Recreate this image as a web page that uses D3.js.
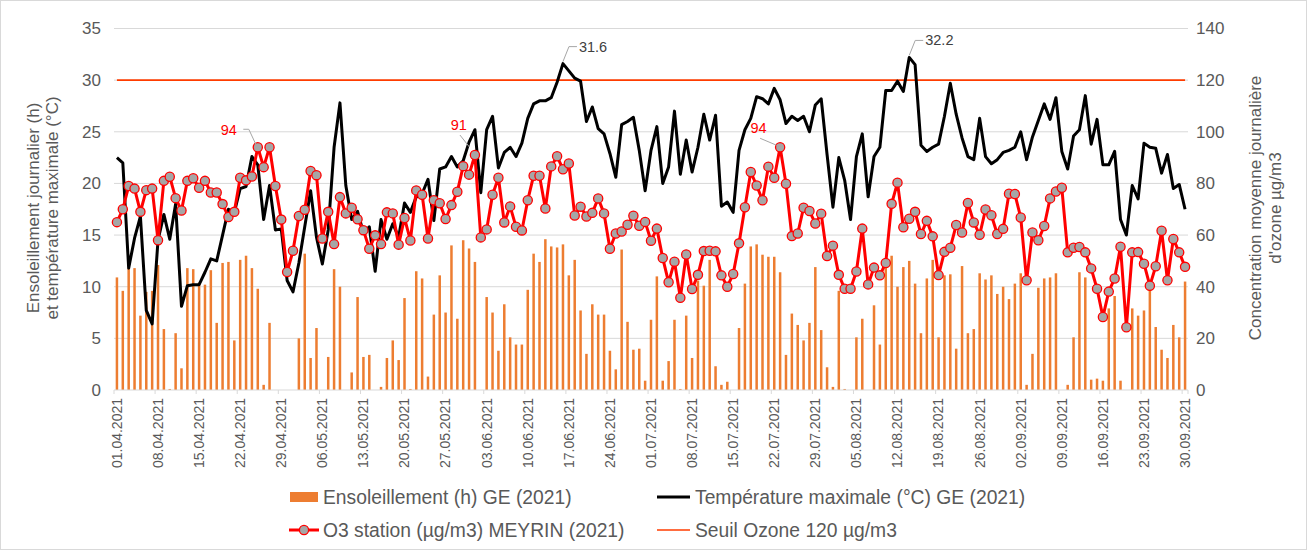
<!DOCTYPE html>
<html>
<head>
<meta charset="utf-8">
<script src="https://cdn.jsdelivr.net/npm/d3@7"></script>
<style>
  html, body { margin: 0; padding: 0; background: #fff; }
  svg { display: block; font-family: "Liberation Sans", Arial, sans-serif; }
</style>
</head>
<body>
<svg id="chart" width="1307" height="550"></svg>
<script>
// Daily series, 01.04.2021 – 30.09.2021 (183 days)
const startDate = new Date(2021, 3, 1);
const endDate = new Date(2021, 8, 30);

// Ensoleillement journalier (h), Genève
const sunshine = [
  10.9, 9.6, 11.8, 11.8, 7.2, 9.5, 9.6, 12.1, 5.9, 0.1, 5.5, 2.1, 11.8, 11.7, 10.4, 10.2, 11.6, 6.5, 12.3, 12.4,
  4.8, 12.6, 13.0, 11.8, 9.8, 0.5, 6.5, 0, 0, 0, 0, 5.0, 13.2, 3.1, 6.0, 0, 3.2, 11.7, 10.0, 0,
  1.7, 9.0, 3.2, 3.4, 0, 0.3, 3.1, 4.8, 2.9, 8.9, 0.1, 11.5, 10.8, 1.3, 7.3, 11.1, 7.5, 14.0, 6.9, 14.5,
  13.7, 12.4, 0, 9.0, 7.5, 3.8, 8.3, 5.1, 4.4, 4.4, 9.7, 13.2, 12.4, 14.6, 13.9, 13.8, 14.1, 11.1, 12.6, 7.7,
  3.5, 8.3, 7.3, 7.3, 3.8, 2.0, 13.6, 6.6, 3.9, 4.0, 0.9, 6.8, 11.0, 0.9, 2.8, 6.8, 0.1, 7.2, 3.1, 10.6,
  10.1, 12.6, 2.3, 0.5, 0.8, 0, 6.0, 10.3, 13.9, 14.1, 13.1, 12.9, 12.9, 11.4, 3.4, 7.4, 6.3, 4.8, 6.5, 11.9,
  5.8, 2.2, 0.3, 9.6, 0.1, 0, 5.1, 6.9, 0, 8.2, 4.4, 12.5, 13.0, 10.0, 11.9, 12.5, 10.3, 5.5, 10.8, 12.6,
  5.1, 11.1, 11.2, 4.0, 12.0, 5.5, 5.9, 11.3, 10.7, 11.1, 9.3, 10.0, 8.8, 10.3, 11.3, 0.5, 3.5, 9.9, 10.8, 10.9,
  11.3, 0, 0.5, 5.1, 11.4, 10.9, 1.0, 1.1, 0.9, 7.9, 9.1, 0.9, 0, 7.9, 7.2, 7.7, 10.1, 6.1, 3.9, 3.1,
  6.3, 5.1, 10.5
];

// Température maximale (°C), Genève
const tempMax = [
  22.5, 22.0, 11.8, 14.7, 16.8, 7.7, 6.4, 14.5, 17.0, 14.6, 18.0, 8.1, 10.1, 10.2, 10.2, 11.4, 12.7, 12.5, 15.0, 17.5,
  17.2, 19.5, 19.7, 22.6, 21.8, 16.5, 19.8, 15.5, 15.6, 10.6, 9.5, 12.3, 15.8, 19.3, 14.8, 12.2, 15.5, 23.5, 27.8, 19.8,
  16.5, 17.3, 15.2, 15.8, 11.5, 16.5, 14.6, 16.1, 14.8, 18.1, 17.2, 18.7, 19.0, 20.4, 16.4, 21.4, 21.6, 22.6, 21.6, 22.2,
  24.0, 25.2, 19.1, 25.2, 26.5, 21.5, 23.0, 23.5, 22.6, 23.9, 26.3, 27.7, 28.0, 28.0, 28.3, 29.8, 31.6, 30.9, 30.2, 29.9,
  26.0, 27.4, 25.3, 24.8, 22.9, 20.6, 25.7, 26.0, 26.4, 23.2, 19.3, 23.2, 25.5, 20.0, 21.6, 27.0, 20.9, 24.2, 21.1, 23.5,
  26.7, 24.2, 26.6, 17.8, 18.2, 17.2, 23.2, 25.2, 26.3, 28.4, 28.2, 27.7, 29.2, 28.1, 25.8, 26.5, 26.1, 26.5, 25.0, 27.6,
  28.2, 22.8, 17.7, 22.5, 20.3, 16.5, 22.6, 24.8, 18.7, 22.6, 23.5, 29.0, 29.0, 29.9, 28.9, 32.2, 31.5, 23.7, 23.1, 23.5,
  23.8, 26.5, 29.7, 26.7, 24.4, 22.6, 22.3, 26.3, 22.6, 21.9, 22.3, 23.0, 23.2, 23.5, 25.0, 22.3, 24.5, 26.1, 27.7, 26.2,
  28.3, 23.1, 21.4, 24.6, 25.2, 28.5, 23.8, 26.2, 21.8, 21.8, 23.1, 16.5, 15.0, 19.8, 18.5, 23.9, 23.5, 23.4, 21.0, 22.8,
  19.5, 19.9, 17.5
];

// O3 moyenne journalière (µg/m3), station Meyrin
const ozone = [
  65, 70, 79, 78, 69, 77.4, 78, 58, 81, 82.6, 74.3, 69.5, 81, 82, 78.3, 81, 76.5, 76.5, 72, 67,
  69, 82.2, 81.2, 82.7, 94, 86.3, 94, 79, 66, 45.7, 53.9, 67.4, 69.8, 84.8, 83.2, 58.7, 69, 56.5, 74.7, 68.4,
  70.6, 66.1, 61.9, 54.7, 59.9, 56.5, 68.8, 68.4, 56.3, 66.6, 57.9, 77.3, 75.6, 58.7, 73.5, 72.3, 66.2, 71.6, 76.8, 86.7,
  83.4, 91, 59.1, 62.2, 75.6, 82.2, 64.9, 71.1, 63.2, 61.8, 73.5, 83, 83, 70.3, 86.6, 90.5, 85.5, 87.7, 67.6, 71,
  67.2, 68.6, 74.2, 68.4, 54.7, 60.6, 61.4, 64, 67.5, 63.6, 65.1, 57.8, 62.5, 51.1, 41.7, 49.7, 35.7, 52.5, 39.1, 44.6,
  53.8, 53.9, 53.7, 44.4, 40, 44.9, 56.8, 70.8, 84.4, 79.2, 73.5, 86.5, 82.2, 94, 79.9, 59.6, 60.6, 70.6, 69.3, 64.5,
  68.3, 51.9, 55.9, 44.6, 39.2, 39.2, 45.9, 62.5, 40.9, 47.4, 44.4, 49.2, 72.1, 80.3, 63, 66.3, 69, 60.4, 65.5, 59.5,
  44.5, 53.5, 55.1, 63.9, 61, 72.4, 64.9, 60.1, 69.9, 67.7, 60.4, 62.4, 76, 75.9, 66.8, 42.5, 61, 58, 63.5, 74.2,
  76.9, 78.3, 53.3, 55.1, 55.4, 53.3, 47.1, 39.2, 28.3, 38.1, 43.2, 55.5, 24.3, 53.3, 53.4, 48.9, 40.4, 47.9, 61.7, 42.5,
  58.5, 53.3, 47.7
];

// Seuil ozone (µg/m3)
const ozoneThreshold = 120;

// Axis ticks
const leftTicks = [0, 5, 10, 15, 20, 25, 30, 35];
const rightTicks = [0, 20, 40, 60, 80, 100, 120, 140];

// Labelled points: [day index, label]
const ozoneLabels = [[24, "94"], [61, "91"], [113, "94"]];
const tempLabels = [[76, "31.6"], [135, "32.2"]];

// placement of the ozone labels relative to their point: text end dx/dy, leader path
const ozoneLabelPos = [
  { dx: -21, dy: -12, leader: [[-14.5, -18], [-9, -18], [-1.5, -2]] },
  { dx: -8, dy: -25, leader: [[-15, -20], [-5.5, -8]] },
  { dx: -13.5, dy: -14, leader: [[-20, -9], [-3.5, -2]] }
];

const days = d3.timeDay.range(startDate, d3.timeDay.offset(endDate, 1));
const fmt = d3.timeFormat("%d.%m.%Y");
const idx = d3.range(days.length);

const svg = d3.select("#chart");
const W = 1307, H = 550;
const plot = { left: 114, right: 1188, top: 28.5, bottom: 390 };

const x = d3.scaleBand().domain(idx).range([plot.left, plot.right]).padding(0);
const bw = x.bandwidth();
const cx = i => x(i) + bw / 2;
const yL = d3.scaleLinear().domain([0, 35]).range([plot.bottom, plot.top]);
const yR = d3.scaleLinear().domain([0, 140]).range([plot.bottom, plot.top]);

const textCol = "#595959";

// outer frame
svg.append("rect").attr("x", 0.5).attr("y", 0.5).attr("width", W - 1).attr("height", H - 1)
  .attr("fill", "#fff").attr("stroke", "#d9d9d9");

// gridlines
svg.append("g").selectAll("line").data(leftTicks.filter(t => t > 0)).join("line")
  .attr("x1", plot.left).attr("x2", plot.right)
  .attr("y1", d => yL(d)).attr("y2", d => yL(d))
  .attr("stroke", "#d9d9d9").attr("stroke-width", 1);

// left axis labels
const gl = svg.append("g").attr("transform", `translate(${plot.left - 13},0)`)
  .call(d3.axisLeft(yL).tickValues(leftTicks).tickSize(0).tickPadding(0));
gl.select(".domain").remove();
gl.selectAll("text").attr("font-size", 17).attr("fill", textCol)
  .attr("font-family", "Liberation Sans, Arial, sans-serif");

// right axis labels
const gr = svg.append("g").attr("transform", `translate(${plot.right + 8},0)`)
  .call(d3.axisRight(yR).tickValues(rightTicks).tickSize(0).tickPadding(0));
gr.select(".domain").remove();
gr.selectAll("text").attr("font-size", 17).attr("fill", textCol)
  .attr("font-family", "Liberation Sans, Arial, sans-serif");

// sunshine bars
svg.append("g").selectAll("rect").data(sunshine).join("rect")
  .attr("x", (d, i) => cx(i) - 1.25)
  .attr("width", 2.5)
  .attr("y", d => yL(d))
  .attr("height", d => plot.bottom - yL(d))
  .attr("fill", "#ED7D31");

// x axis baseline and ticks
svg.append("line").attr("x1", plot.left).attr("x2", plot.right)
  .attr("y1", plot.bottom).attr("y2", plot.bottom).attr("stroke", "#d9d9d9");
const weekly = idx.filter(i => i % 7 === 0);
svg.append("g").selectAll("line").data(weekly.concat([days.length])).join("line")
  .attr("x1", i => plot.left + i * bw).attr("x2", i => plot.left + i * bw)
  .attr("y1", plot.bottom).attr("y2", plot.bottom + 4)
  .attr("stroke", "#d9d9d9");
svg.append("g").selectAll("text").data(weekly).join("text")
  .attr("transform", i => `translate(${cx(i)},${plot.bottom + 8}) rotate(-90)`)
  .attr("text-anchor", "end").attr("dy", "0.35em")
  .attr("font-size", 14).attr("fill", textCol)
  .text(i => fmt(days[i]));

// threshold line
svg.append("line")
  .attr("x1", cx(0)).attr("x2", cx(days.length - 1))
  .attr("y1", yR(ozoneThreshold)).attr("y2", yR(ozoneThreshold))
  .attr("stroke", "#FF3C00").attr("stroke-width", 1.6);

// temperature line
svg.append("path").datum(tempMax)
  .attr("d", d3.line().x((d, i) => cx(i)).y(d => yL(d)))
  .attr("fill", "none").attr("stroke", "#000").attr("stroke-width", 3)
  .attr("stroke-linejoin", "round");

// ozone line and markers
svg.append("path").datum(ozone)
  .attr("d", d3.line().x((d, i) => cx(i)).y(d => yR(d)))
  .attr("fill", "none").attr("stroke", "#FF0000").attr("stroke-width", 3)
  .attr("stroke-linejoin", "round");
svg.append("g").selectAll("circle").data(ozone).join("circle")
  .attr("cx", (d, i) => cx(i)).attr("cy", d => yR(d)).attr("r", 4.6)
  .attr("fill", "#A6A6A6").attr("stroke", "#FF0000").attr("stroke-width", 1.3);

// data labels with leader lines
const leader = "#A6A6A6";
ozoneLabels.forEach(([i, lab], k) => {
  const px = cx(i), py = yR(ozone[i]);
  const p = ozoneLabelPos[k];
  svg.append("path")
    .attr("d", d3.line()(p.leader.map(([a, b]) => [px + a, py + b])))
    .attr("fill", "none").attr("stroke", leader).attr("stroke-width", 1);
  svg.append("text").attr("x", px + p.dx).attr("y", py + p.dy).attr("text-anchor", "end")
    .attr("font-size", 14.5).attr("fill", "#FF0000").text(lab);
});
tempLabels.forEach(([i, lab]) => {
  const px = cx(i), py = yL(tempMax[i]);
  const tx = px + 16, ty = py - 17;
  svg.append("path")
    .attr("d", `M${tx - 2},${ty}L${tx - 10},${ty}L${px},${py - 2}`)
    .attr("fill", "none").attr("stroke", leader).attr("stroke-width", 1);
  svg.append("text").attr("x", tx).attr("y", ty + 5)
    .attr("font-size", 14.5).attr("fill", "#404040").text(lab);
});

// axis titles
const leftTitle = ["Ensoleillement journalier (h)", "et température maximale (°C)"];
const rightTitle = ["Concentration moyenne journalière", "d'ozone µg/m3"];
leftTitle.forEach((t, k) => {
  svg.append("text")
    .attr("transform", `translate(${33 + k * 19},208) rotate(-90)`)
    .attr("text-anchor", "middle").attr("dy", "0.35em")
    .attr("font-size", 17).attr("fill", textCol).text(t);
});
rightTitle.forEach((t, k) => {
  svg.append("text")
    .attr("transform", `translate(${1255 + k * 20},208) rotate(-90)`)
    .attr("text-anchor", "middle").attr("dy", "0.35em")
    .attr("font-size", 17).attr("fill", textCol).text(t);
});

// legend
const lg = svg.append("g").attr("font-size", 19.3).attr("fill", textCol);
lg.append("rect").attr("x", 290).attr("y", 492).attr("width", 28).attr("height", 10).attr("fill", "#ED7D31");
lg.append("text").attr("x", 323).attr("y", 497).attr("dy", "0.35em").text("Ensoleillement (h) GE (2021)");
lg.append("line").attr("x1", 657).attr("x2", 690).attr("y1", 497).attr("y2", 497)
  .attr("stroke", "#000").attr("stroke-width", 3);
lg.append("text").attr("x", 695).attr("y", 497).attr("dy", "0.35em").text("Température maximale (°C) GE (2021)");
lg.append("line").attr("x1", 289).attr("x2", 319).attr("y1", 530).attr("y2", 530)
  .attr("stroke", "#FF0000").attr("stroke-width", 3);
lg.append("circle").attr("cx", 304).attr("cy", 530).attr("r", 4.6)
  .attr("fill", "#A6A6A6").attr("stroke", "#FF0000").attr("stroke-width", 1.3);
lg.append("text").attr("x", 323).attr("y", 530).attr("dy", "0.35em").text("O3 station (µg/m3) MEYRIN (2021)");
lg.append("line").attr("x1", 657).attr("x2", 690).attr("y1", 530).attr("y2", 530)
  .attr("stroke", "#FF3C00").attr("stroke-width", 1.6);
lg.append("text").attr("x", 695).attr("y", 530).attr("dy", "0.35em").text("Seuil Ozone 120 µg/m3");
</script>
</body>
</html>
